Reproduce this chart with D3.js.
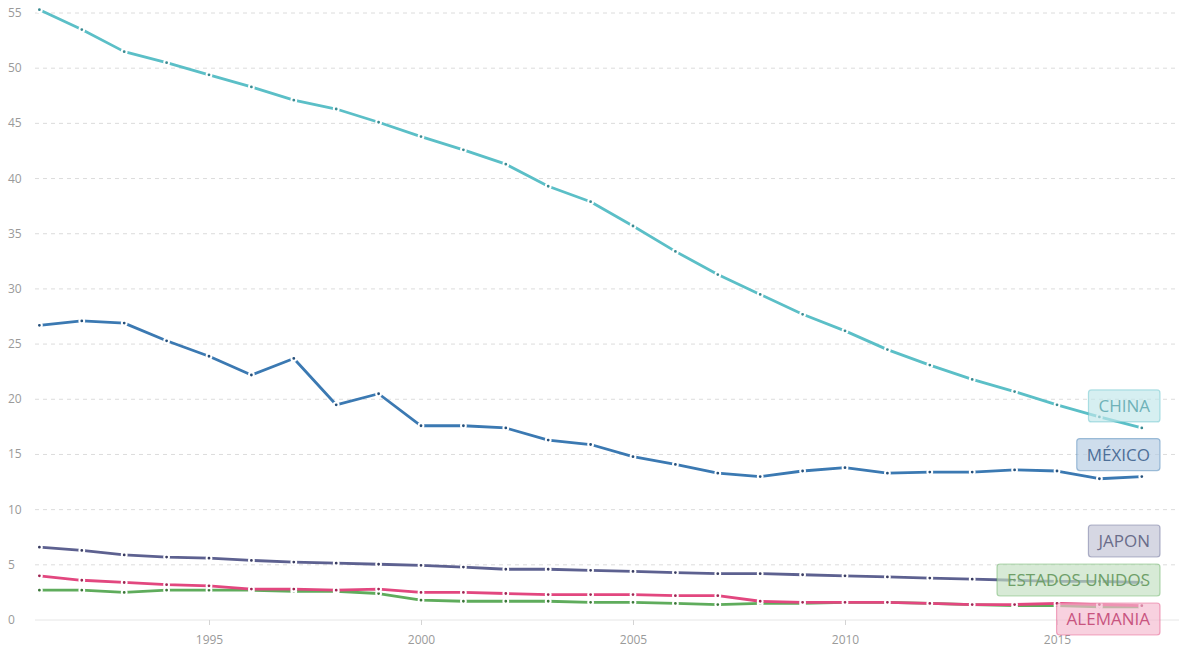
<!DOCTYPE html>
<html>
<head>
<meta charset="utf-8">
<script src="https://cdn.jsdelivr.net/npm/d3@7"></script>
<style>
  body { margin: 0; background: #fff; }
  svg { font-family: "Open Sans", "Noto Sans", sans-serif; }
</style>
</head>
<body>
<svg id="chart"></svg>
<script>
var years = d3.range(1991, 2018);

var china = [55.3, 53.5, 51.5, 50.5, 49.4, 48.3, 47.1, 46.3, 45.1, 43.8, 42.6, 41.3, 39.3, 37.9, 35.7, 33.4, 31.3, 29.5, 27.7, 26.2, 24.5, 23.1, 21.8, 20.7, 19.5, 18.4, 17.4];
var mexico = [26.7, 27.1, 26.9, 25.3, 23.9, 22.2, 23.7, 19.5, 20.5, 17.6, 17.6, 17.4, 16.3, 15.9, 14.8, 14.1, 13.3, 13.0, 13.5, 13.8, 13.3, 13.4, 13.4, 13.6, 13.5, 12.8, 13.0];
var japon = [6.6, 6.3, 5.9, 5.7, 5.6, 5.4, 5.25, 5.15, 5.05, 4.95, 4.8, 4.6, 4.6, 4.5, 4.4, 4.3, 4.2, 4.2, 4.1, 4.0, 3.9, 3.8, 3.7, 3.6, 3.5, 3.5, 3.4];
var estadosUnidos = [2.7, 2.7, 2.5, 2.7, 2.7, 2.7, 2.6, 2.6, 2.4, 1.8, 1.7, 1.7, 1.7, 1.6, 1.6, 1.5, 1.4, 1.5, 1.5, 1.6, 1.6, 1.5, 1.4, 1.3, 1.3, 1.2, 1.2];
var alemania = [4.0, 3.6, 3.4, 3.2, 3.1, 2.8, 2.8, 2.7, 2.8, 2.5, 2.5, 2.4, 2.3, 2.3, 2.3, 2.2, 2.2, 1.7, 1.6, 1.6, 1.6, 1.5, 1.4, 1.4, 1.5, 1.4, 1.3];

var names = ["CHINA", "MÉXICO", "JAPON", "ESTADOS UNIDOS", "ALEMANIA"];
var colors = ["#5bbfc7", "#3b79b2", "#5d6190", "#5fac5c", "#e2477f"];
var dotColors = ["#3a8a91", "#254f7a", "#383b60", "#3a7638", "#9e2552"];
var textColors = ["#6fb2b8", "#4d6f98", "#6a6d8a", "#6e9f68", "#c8557f"];
var yTicks = [0, 5, 10, 15, 20, 25, 30, 35, 40, 45, 50, 55];
var xTicks = [1995, 2000, 2005, 2010, 2015];

var seriesValues = [china, mexico, japon, estadosUnidos, alemania];

var width = 1179,
    height = 652;

var svg = d3.select("#chart")
    .attr("width", width)
    .attr("height", height);

var x = d3.scaleLinear().domain([1991, 2017]).range([39.4, 1141.8]);
var y = d3.scaleLinear().domain([0, 55]).range([620, 13]);

// gridlines
svg.append("g")
    .selectAll("line")
    .data(yTicks.filter(function(d){ return d > 0; }))
    .enter()
    .append("line")
    .attr("x1", 35)
    .attr("x2", width)
    .attr("y1", function(d){ return y(d); })
    .attr("y2", function(d){ return y(d); })
    .attr("stroke", "#dcdcdc")
    .attr("stroke-dasharray", "4,4")
    .attr("stroke-width", 1);

// baseline
svg.append("line")
    .attr("x1", 35).attr("x2", width)
    .attr("y1", y(0)).attr("y2", y(0))
    .attr("stroke", "#e6e6e6");

// y labels
svg.append("g")
    .selectAll("text")
    .data(yTicks)
    .enter()
    .append("text")
    .attr("x", 8)
    .attr("y", function(d){ return y(d) + 4; })
    .attr("fill", "#9a9a9a")
    .attr("font-size", 12)
    .text(function(d){ return d; });

// x axis
var xAxis = d3.axisBottom(x)
    .tickValues(xTicks)
    .tickFormat(d3.format("d"))
    .tickSize(5)
    .tickPadding(10);

var gx = svg.append("g")
    .attr("transform", "translate(0," + y(0) + ")")
    .call(xAxis);
gx.select(".domain").remove();
gx.selectAll(".tick line").attr("stroke", "#d4d4d4");
gx.selectAll(".tick text")
    .attr("fill", "#9a9a9a")
    .attr("font-size", 12)
    .attr("font-family", "'Open Sans', sans-serif");

var line = d3.line()
    .x(function(d, i){ return x(years[i]); })
    .y(function(d){ return y(d); });

// draw from bottom to top so china is on top
var order = [3, 4, 2, 1, 0];
order.forEach(function(k){
    var g = svg.append("g");
    g.append("path")
        .datum(seriesValues[k])
        .attr("d", line)
        .attr("fill", "none")
        .attr("stroke", colors[k])
        .attr("stroke-width", 2.8)
        .attr("stroke-linejoin", "round");

    g.selectAll("circle")
        .data(seriesValues[k])
        .enter()
        .append("circle")
        .attr("cx", function(d, i){ return x(years[i]); })
        .attr("cy", function(d){ return y(d); })
        .attr("r", 2.4)
        .attr("fill", dotColors[k])
        .attr("stroke", "#fff")
        .attr("stroke-width", 2);
});

// labels: lowest sits on the bottom cap, the rest pushed up in legend order
var boxH = 32, gap = 39, bottomCap = 619;
var labelY = seriesValues.map(function(s){ return y(s[s.length - 1]) - 22; });
labelY[names.length - 1] = bottomCap;
for (var k = names.length - 2; k >= 0; k--) {
    labelY[k] = Math.min(labelY[k], labelY[k + 1] - gap);
}

var right = 1160;
names.forEach(function(n, k){
    var lg = svg.append("g");
    var t = lg.append("text")
        .attr("x", right - 10)
        .attr("y", labelY[k] + 6)
        .attr("text-anchor", "end")
        .attr("font-size", 17)
        .attr("fill", textColors[k])
        .text(n);
    var w = t.node().getComputedTextLength() + 20;
    lg.insert("rect", "text")
        .attr("x", right - w)
        .attr("y", labelY[k] - boxH / 2)
        .attr("width", w)
        .attr("height", boxH)
        .attr("rx", 3)
        .attr("fill", d3.color(colors[k]).copy({opacity: 0.25}))
        .attr("stroke", d3.color(colors[k]).copy({opacity: 0.45}))
        .attr("stroke-width", 1.2);
    lg.insert("rect", "rect")
        .attr("x", right - w)
        .attr("y", labelY[k] - boxH / 2)
        .attr("width", w)
        .attr("height", boxH)
        .attr("rx", 3)
        .attr("fill", "#fff")
        .attr("fill-opacity", 0.55);
});
</script>
</body>
</html>
